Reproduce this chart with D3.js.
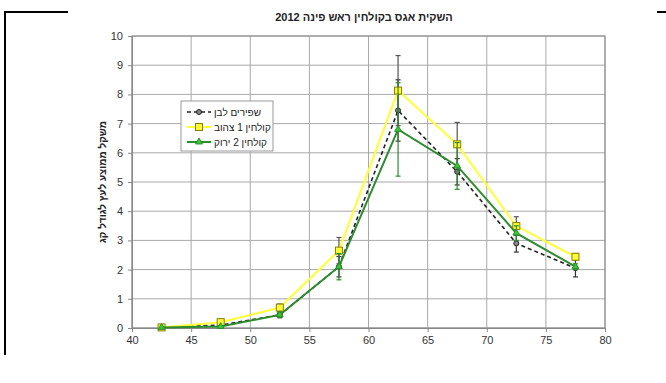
<!DOCTYPE html>
<html><head><meta charset="utf-8">
<script src="https://cdn.jsdelivr.net/npm/d3@7"></script>
<style>
body{margin:0;background:#fff;}
text{font-family:"Liberation Sans",Arial,sans-serif;}
</style></head>
<body><svg id="c" width="666" height="383"></svg>
<script>
const xs = [42.5, 47.5, 52.5, 57.5, 62.5, 67.5, 72.5, 77.5];
const whiteVals  = [0.02, 0.10, 0.45, 2.10, 7.45, 5.35, 2.90, 2.05];
const whiteErr   = [0.02, 0.05, 0.10, 0.35, 1.05, 0.45, 0.30, 0.30];
const yellowVals = [0.02, 0.20, 0.70, 2.65, 8.13, 6.29, 3.49, 2.44];
const yellowErr  = [0.02, 0.05, 0.12, 0.45, 1.20, 0.75, 0.32, 0.10];
const greenVals  = [0.02, 0.05, 0.45, 2.10, 6.80, 5.55, 3.25, 2.10];
const greenErr   = [0.02, 0.03, 0.08, 0.45, 1.60, 0.80, 0.25, 0.10];
const xTicks = [40, 45, 50, 55, 60, 65, 70, 75, 80];
const yTicks = [0, 1, 2, 3, 4, 5, 6, 7, 8, 9, 10];
const seriesNames = ["שפירים לבן", "קולחין 1 צהוב", "קולחין 2 ירוק"];

const svg = d3.select("#c");
const x = d3.scaleLinear().domain([40, 80]).range([132, 605]);
const y = d3.scaleLinear().domain([0, 10]).range([328, 36]);

// page frame fragments
svg.append("path").attr("d", "M5,355 V12 H68").attr("fill", "none").attr("stroke", "#000").attr("stroke-width", 2);
svg.append("path").attr("d", "M657,12 H666").attr("stroke", "#000").attr("stroke-width", 2);

// grid
const g = svg.append("g");
g.selectAll(".hg").data(yTicks).join("line")
  .attr("x1", x(40)).attr("x2", x(80)).attr("y1", d => y(d)).attr("y2", d => y(d))
  .attr("stroke", "#a8a8a8").attr("stroke-width", 1);
g.selectAll(".vg").data(xTicks).join("line")
  .attr("y1", y(0)).attr("y2", y(10)).attr("x1", d => x(d)).attr("x2", d => x(d))
  .attr("stroke", "#a8a8a8").attr("stroke-width", 1);
g.append("rect").attr("x", x(40)).attr("y", y(10)).attr("width", x(80) - x(40)).attr("height", y(0) - y(10))
  .attr("fill", "none").attr("stroke", "#888").attr("stroke-width", 1);

// axes
const xa = svg.append("g").attr("transform", `translate(0,${y(0)})`)
  .call(d3.axisBottom(x).tickValues(xTicks).tickSize(4).tickPadding(4));
const ya = svg.append("g").attr("transform", `translate(${x(40)},0)`)
  .call(d3.axisLeft(y).tickValues(yTicks).tickSize(4).tickPadding(5));
[xa, ya].forEach(a => {
  a.select(".domain").attr("stroke", "#888");
  a.selectAll(".tick line").attr("stroke", "#888");
  a.selectAll("text").attr("font-size", 11).attr("fill", "#333").attr("font-family", "Liberation Sans, Arial, sans-serif");
});

// titles
svg.append("text").attr("x", 364).attr("y", 21).attr("text-anchor", "middle")
  .attr("font-size", 11).attr("font-weight", "bold").attr("fill", "#222").text("השקית אגס בקולחין ראש פינה 2012");
svg.append("text").attr("transform", `translate(106,${y(5)}) rotate(-90)`).attr("text-anchor", "middle")
  .attr("font-size", 10).attr("font-weight", "bold").attr("fill", "#222").text("משקל ממוצע לעץ לגודל קג");

const line = d3.line().x(d => x(d[0])).y(d => y(d[1]));
const series = [
  {vals: whiteVals, err: whiteErr, color: "#222", width: 1.6, dash: "4,3", errColor: "#333", marker: "circle"},
  {vals: yellowVals, err: yellowErr, color: "#ffff33", width: 2, dash: null, errColor: "#555", marker: "square"},
  {vals: greenVals, err: greenErr, color: "#2e8b2e", width: 2, dash: null, errColor: "#2e8b2e", marker: "tri"}
];

function drawMarker(sel, s, cx, cy) {
  if (s.marker === "square") {
    sel.append("rect").attr("x", cx - 3.5).attr("y", cy - 3.5).attr("width", 7).attr("height", 7)
      .attr("fill", "#ffff33").attr("stroke", "#8a7a00").attr("stroke-width", 1);
  } else if (s.marker === "tri") {
    sel.append("path").attr("d", d3.symbol(d3.symbolTriangle, 20)()).attr("transform", `translate(${cx},${cy})`)
      .attr("fill", "#33cc33").attr("stroke", "#2e8b2e");
  } else {
    sel.append("circle").attr("cx", cx).attr("cy", cy).attr("r", 2.5)
      .attr("fill", "#888").attr("stroke", "#222");
  }
}

series.forEach(s => {
  const pts = xs.map((v, i) => [v, s.vals[i]]);
  const gs = svg.append("g");
  // error bars
  pts.forEach((p, i) => {
    const e = s.err[i];
    if (e < 0.06) return;
    const cx = x(p[0]);
    gs.append("line").attr("x1", cx).attr("x2", cx).attr("y1", y(p[1] - e)).attr("y2", y(p[1] + e))
      .attr("stroke", s.errColor).attr("stroke-width", 1.2);
    [p[1] - e, p[1] + e].forEach(v => gs.append("line").attr("x1", cx - 2.5).attr("x2", cx + 2.5)
      .attr("y1", y(v)).attr("y2", y(v)).attr("stroke", s.errColor).attr("stroke-width", 1.2));
  });
  gs.append("path").datum(pts).attr("d", line).attr("fill", "none")
    .attr("stroke", s.color).attr("stroke-width", s.width).attr("stroke-dasharray", s.dash);
  pts.forEach(p => drawMarker(gs, s, x(p[0]), y(p[1])));
});

// legend
const lg = svg.append("g");
lg.append("rect").attr("x", 181).attr("y", 101).attr("width", 92).attr("height", 50)
  .attr("fill", "#fff").attr("stroke", "#999");
series.forEach((s, i) => {
  const ly = 112 + i * 15;
  lg.append("line").attr("x1", 187).attr("x2", 211).attr("y1", ly).attr("y2", ly)
    .attr("stroke", s.color).attr("stroke-width", s.width).attr("stroke-dasharray", s.dash);
  drawMarker(lg, s, 199, ly);
  lg.append("text").attr("x", 214).attr("y", ly + 3.5).attr("font-size", 10).attr("fill", "#222")
    .attr("text-anchor", "start").text(seriesNames[i]);
});
</script></body></html>
